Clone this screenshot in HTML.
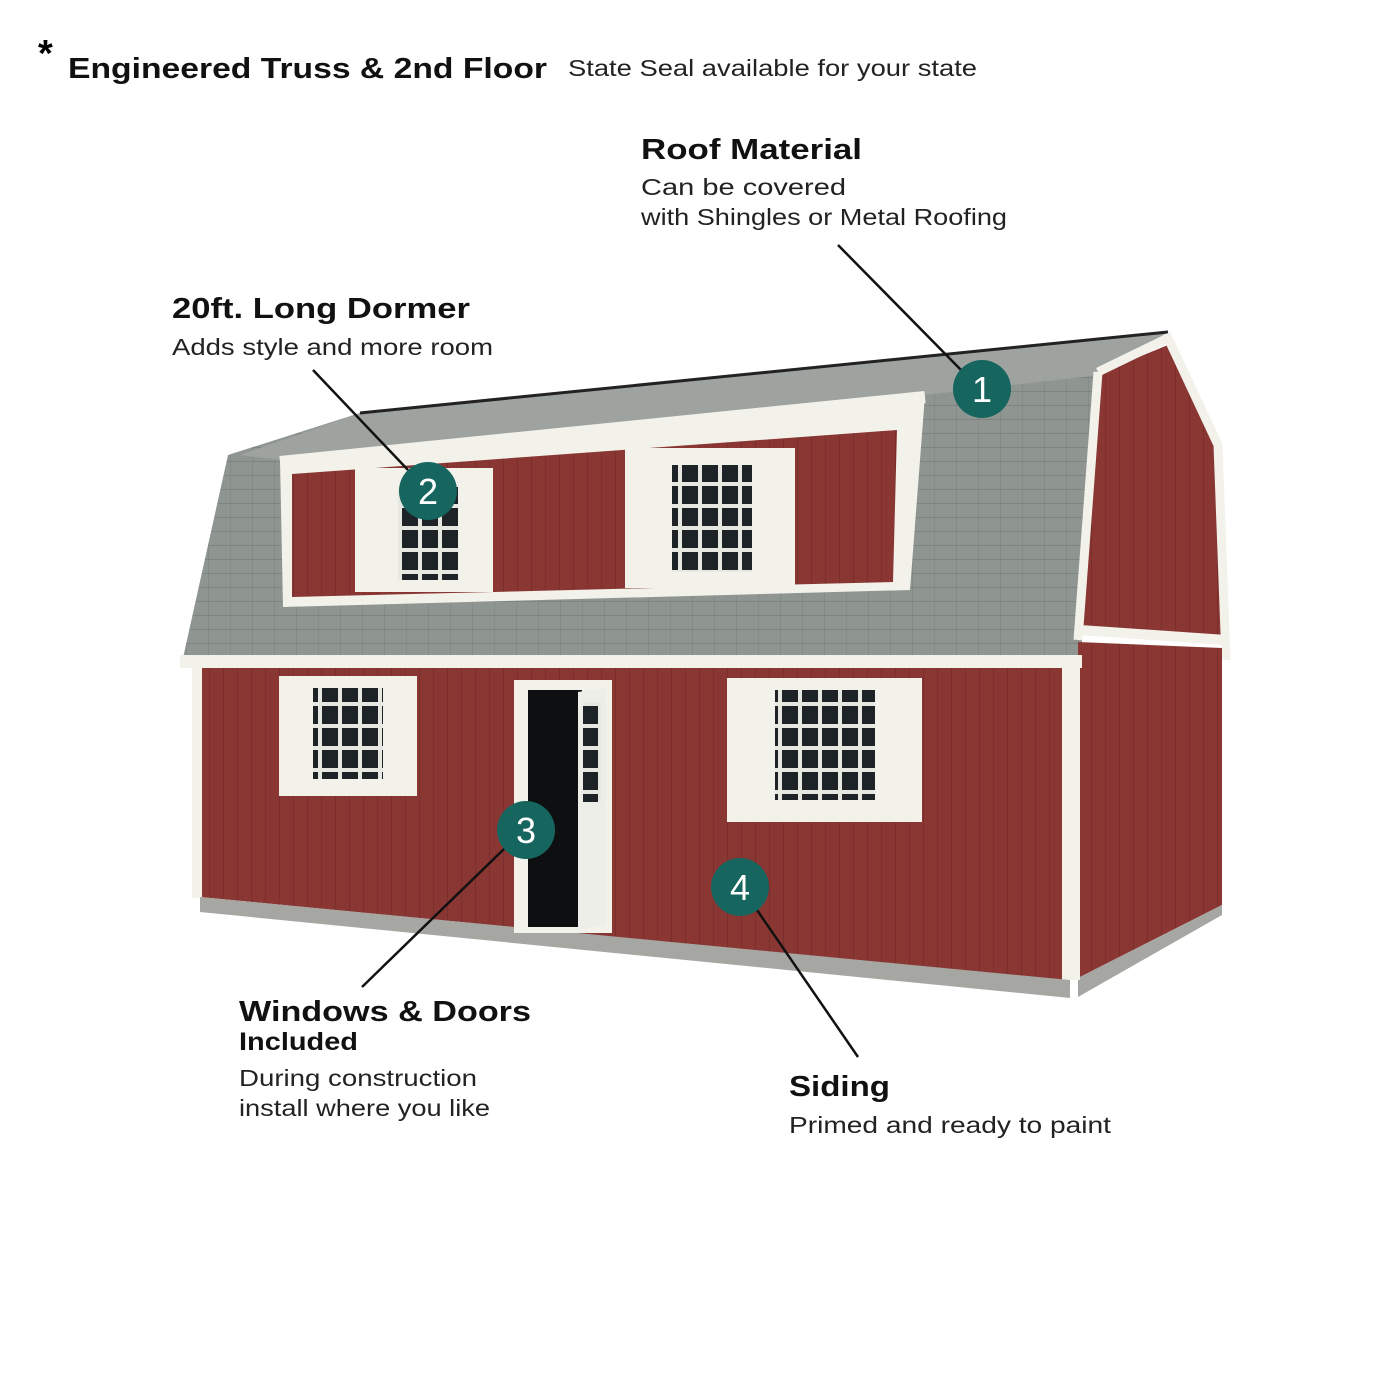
<!DOCTYPE html>
<html><head><meta charset="utf-8"><style>
html,body{margin:0;padding:0;background:#fff;}
svg{display:block;}
text{font-family:"Liberation Sans",sans-serif;}
</style></head><body>
<svg width="1400" height="1400" viewBox="0 0 1400 1400" xmlns="http://www.w3.org/2000/svg">
<defs>
<pattern id="sid" width="14" height="10" patternUnits="userSpaceOnUse">
<rect width="14" height="10" fill="#8a3733"/><rect x="13" width="1" height="10" fill="#7a2f2c"/>
</pattern>
<pattern id="shg" width="22" height="14" patternUnits="userSpaceOnUse">
<rect width="22" height="14" fill="#8f9692"/><rect y="13" width="22" height="1" fill="#7e8581"/><rect x="10" width="1" height="13" fill="#858c88"/>
</pattern>
<pattern id="gl" width="20" height="22" patternUnits="userSpaceOnUse">
<rect width="20" height="22" fill="#e8e8e2"/><rect x="2" y="2" width="16" height="18" fill="#1d2326"/>
</pattern>
</defs>
<!-- header -->
<text x="38" y="66" font-size="38" font-weight="bold">*</text>
<text x="68" y="78" font-size="29" font-weight="bold" fill="#111" textLength="479" lengthAdjust="spacingAndGlyphs">Engineered Truss &amp; 2nd Floor</text>
<text x="568" y="76" font-size="23" fill="#222" textLength="409" lengthAdjust="spacingAndGlyphs">State Seal available for your state</text>

<!-- roof -->
<polygon points="183,658 228,455 360,413 1168,332 1105,372 1082,635 1082,660 183,662" fill="url(#shg)"/>
<polygon points="360,413 1168,332 1100,375 925,395 280,460 240,455" fill="#9ea39f"/>
<line x1="360" y1="413" x2="1168" y2="332" stroke="#222" stroke-width="3"/>
<!-- right gable -->
<polygon points="1102,372 1168,345 1218,448 1224,640 1082,630" fill="url(#sid)"/>
<polyline points="1098,372 1168,338 1218,445 1226,660" fill="none" stroke="#f2f1ea" stroke-width="9"/>
<polyline points="1098,372 1078,640" fill="none" stroke="#f2f1ea" stroke-width="9"/>
<line x1="1080" y1="630" x2="1226" y2="640" stroke="#f2f1ea" stroke-width="10"/>
<!-- right lower wall -->
<polygon points="1078,642 1222,648 1222,905 1078,978" fill="url(#sid)"/>
<polygon points="1078,978 1222,905 1222,915 1078,997" fill="#a6a6a2"/>
<!-- dormer -->
<polygon points="280,460 925,395 910,590 283,607" fill="#f2f1ea"/>
<polygon points="292,474 897,430 893,582 292,597" fill="url(#sid)"/>
<line x1="280" y1="462" x2="925" y2="397" stroke="#f2f1ea" stroke-width="12"/>
<!-- dormer windows -->
<rect x="355" y="468" width="138" height="124" fill="#f2f1ea"/>
<rect x="398" y="487" width="60" height="93" fill="url(#gl)"/>
<rect x="625" y="448" width="170" height="140" fill="#f2f1ea"/>
<rect x="672" y="465" width="80" height="107" fill="url(#gl)"/>
<!-- fascia -->
<rect x="180" y="655" width="902" height="13" fill="#f2f1ea"/>
<!-- front wall -->
<polygon points="195,668 1065,668 1065,980 200,897" fill="url(#sid)"/>
<rect x="192" y="668" width="10" height="230" fill="#f2f1ea"/>
<rect x="1062" y="660" width="18" height="320" fill="#f2f1ea"/>
<polygon points="200,897 1070,980 1070,998 200,912" fill="#a6a6a2"/>
<!-- lower windows -->
<rect x="279" y="676" width="138" height="120" fill="#f2f1ea"/>
<rect x="313" y="688" width="70" height="91" fill="url(#gl)"/>
<rect x="727" y="678" width="195" height="144" fill="#f2f1ea"/>
<rect x="775" y="690" width="100" height="110" fill="url(#gl)"/>
<!-- door -->
<rect x="514" y="680" width="98" height="253" fill="#f2f1ea"/>
<rect x="528" y="690" width="54" height="237" fill="#0e0f10"/>
<polygon points="578,692 606,688 606,925 578,930" fill="#eeeee8"/>
<rect x="583" y="702" width="18" height="100" fill="url(#gl)"/>

<!-- leader lines -->
<g stroke="#111" stroke-width="2.5">
<line x1="838" y1="245" x2="963" y2="372"/>
<line x1="313" y1="370" x2="408" y2="470"/>
<line x1="362" y1="987" x2="505" y2="848"/>
<line x1="858" y1="1057" x2="757" y2="910"/>
</g>
<g fill="#16655f">
<circle cx="982" cy="389" r="29"/><circle cx="428" cy="491" r="29"/>
<circle cx="526" cy="830" r="29"/><circle cx="740" cy="887" r="29"/>
</g>
<g fill="#fff" font-size="36" text-anchor="middle">
<text x="982" y="402">1</text><text x="428" y="504">2</text>
<text x="526" y="843">3</text><text x="740" y="900">4</text>
</g>

<!-- labels -->
<text x="641" y="159" font-size="29" font-weight="bold" fill="#111" textLength="221" lengthAdjust="spacingAndGlyphs">Roof Material</text>
<text x="641" y="195" font-size="23" fill="#222" textLength="205" lengthAdjust="spacingAndGlyphs">Can be covered</text>
<text x="641" y="225" font-size="23" fill="#222" textLength="366" lengthAdjust="spacingAndGlyphs">with Shingles or Metal Roofing</text>
<text x="172" y="318" font-size="29" font-weight="bold" fill="#111" textLength="298" lengthAdjust="spacingAndGlyphs">20ft. Long Dormer</text>
<text x="172" y="355" font-size="23" fill="#222" textLength="321" lengthAdjust="spacingAndGlyphs">Adds style and more room</text>
<text x="239" y="1021" font-size="29" font-weight="bold" fill="#111" textLength="292" lengthAdjust="spacingAndGlyphs">Windows &amp; Doors</text>
<text x="239" y="1050" font-size="25" font-weight="bold" fill="#111" textLength="119" lengthAdjust="spacingAndGlyphs">Included</text>
<text x="239" y="1086" font-size="23" fill="#222" textLength="238" lengthAdjust="spacingAndGlyphs">During construction</text>
<text x="239" y="1116" font-size="23" fill="#222" textLength="251" lengthAdjust="spacingAndGlyphs">install where you like</text>
<text x="789" y="1096" font-size="29" font-weight="bold" fill="#111" textLength="101" lengthAdjust="spacingAndGlyphs">Siding</text>
<text x="789" y="1133" font-size="23" fill="#222" textLength="322" lengthAdjust="spacingAndGlyphs">Primed and ready to paint</text>
</svg>
</body></html>
